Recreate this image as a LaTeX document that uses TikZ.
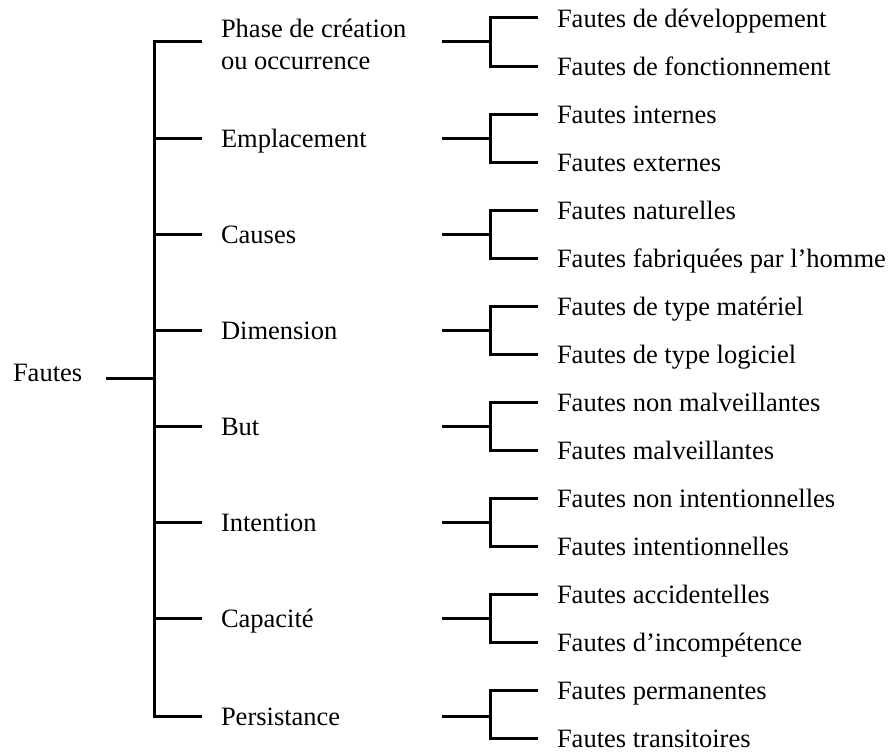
\documentclass[tikz,border=0pt]{standalone}
\usepackage{fontspec}
\setmainfont{Liberation Serif}
\begin{document}
\begin{tikzpicture}[x=1pt,y=-1pt,
  every node/.style={inner sep=0pt,outer sep=0pt,font=\fontsize{26.5}{32}\selectfont},
  label/.style={anchor=west,text height=19pt,text depth=0pt},
  twoline/.style={anchor=west,align=left},
  link/.style={line width=3pt,line join=miter}]
\useasboundingbox (0,0) rectangle (890,752);

% root
\node[label] (root) at (13,372) {Fautes};
\coordinate (cr) at (154,378);

% junction points of each category
\foreach \n/\y in {1/42,2/138,3/234,4/330,5/426,6/522,7/618,8/716}{
  \coordinate (c\n) at (154,\y);
  \coordinate (g\n) at (442,\y);
  \coordinate (j\n) at (490,\y);
}
\node[twoline] (cat1) at (221,44) {Phase de création\\ou occurrence};
\node[label] (cat2) at (221,138) {Emplacement};
\node[label] (cat3) at (221,234) {Causes};
\node[label] (cat4) at (221,330) {Dimension};
\node[label] (cat5) at (221,426) {But};
\node[label] (cat6) at (221,522) {Intention};
\node[label] (cat7) at (221,618) {Capacité};
\node[label] (cat8) at (221,716) {Persistance};

% leaves
\node[label] (a1) at (557,18) {Fautes de développement};
\node[label] (b1) at (557,66) {Fautes de fonctionnement};
\node[label] (a2) at (557,114) {Fautes internes};
\node[label] (b2) at (557,162) {Fautes externes};
\node[label] (a3) at (557,210) {Fautes naturelles};
\node[label] (b3) at (557,258) {Fautes fabriquées par l’homme};
\node[label] (a4) at (557,306) {Fautes de type matériel};
\node[label] (b4) at (557,354) {Fautes de type logiciel};
\node[label] (a5) at (557,402) {Fautes non malveillantes};
\node[label] (b5) at (557,450) {Fautes malveillantes};
\node[label] (a6) at (557,498) {Fautes non intentionnelles};
\node[label] (b6) at (557,546) {Fautes intentionnelles};
\node[label] (a7) at (557,594) {Fautes accidentelles};
\node[label] (b7) at (557,642) {Fautes d’incompétence};
\node[label] (a8) at (557,690) {Fautes permanentes};
\node[label] (b8) at (557,738) {Fautes transitoires};

% root connector and trunk
\draw[link] ([xshift=24pt]root.east |- cr) -- (cr);
\draw[link] ([xshift=-19pt]cat1.west |- c1) -| (c8) -- ([xshift=-19pt]cat8.west);
\foreach \n in {2,...,7}{
  \draw[link] (c\n) -- ([xshift=-19pt]cat\n.west);
}

% second level brackets
\foreach \n in {1,...,8}{
  \draw[link] (g\n) -- (j\n);
  \draw[link] ([xshift=-19pt]a\n.west) -| (j\n) |- ([xshift=-19pt]b\n.west);
}
\end{tikzpicture}
\end{document}
